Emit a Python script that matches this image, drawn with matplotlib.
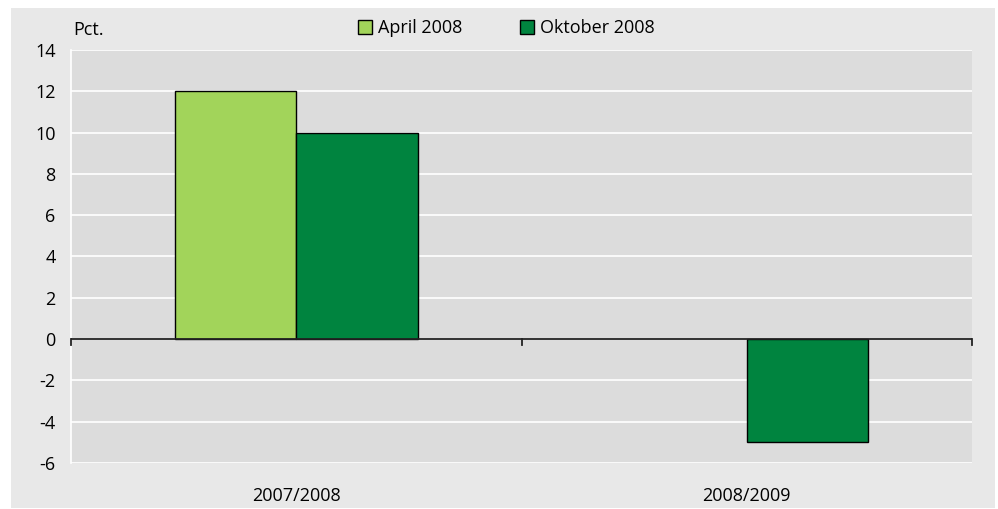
import matplotlib.pyplot as plt
from matplotlib.patches import Rectangle
import numpy as np

# data
categories = ['2007/2008', '2008/2009']
april_2008 = [12, np.nan]
oktober_2008 = [10, -5]
series_names = ['April 2008', 'Oktober 2008']
y_ticks = [-6, -4, -2, 0, 2, 4, 6, 8, 10, 12, 14]

plt.rcParams['font.family'] = ['Open Sans', 'DejaVu Sans']

fig = plt.figure(figsize=(9.98, 5.09), dpi=100)
fig.patch.set_facecolor('white')
fig.patches.append(Rectangle((11/998, 1/509), 984/998, 500/509, transform=fig.transFigure,
                             facecolor='#e8e8e8', edgecolor='none', zorder=-5))

ax = fig.add_axes([71/998, 46/509, 901/998, 413/509])
ax.set_zorder(2)
ax.set_facecolor('#dcdcdc')

x = np.arange(len(categories))
w = 0.27
ax.bar(x - w/2, april_2008, w, color='#a2d45a', edgecolor='black', linewidth=1,
       label=series_names[0], zorder=3)
ax.bar(x + w/2, oktober_2008, w, color='#00843f', edgecolor='black', linewidth=1,
       label=series_names[1], zorder=3)

ax.set_xlim(-0.5, len(categories) - 0.5)
ax.set_ylim(-6, 14)
ax.set_yticks(y_ticks)
ax.set_yticklabels([str(v) for v in y_ticks], fontsize=13)
ax.yaxis.grid(True, color='white', linewidth=1.2, zorder=1)
ax.set_axisbelow(True)
ax.tick_params(axis='y', length=0, pad=11)

ax.set_xticks(x)
ax.set_xticklabels(categories, fontsize=13)
ax.tick_params(axis='x', length=0, pad=17)

for s in ['top', 'right', 'bottom']:
    ax.spines[s].set_visible(False)
ax.spines['left'].set_color('white')
ax.spines['left'].set_linewidth(1.2)

# zero line with category boundary ticks
ax.axhline(0, color='#222222', linewidth=1.3, zorder=4)
for b in np.arange(len(categories) + 1) - 0.5:
    ax.plot([b, b], [0, -0.3], color='#222222', linewidth=1.3, zorder=4, clip_on=False)

fig.text(73/998, 1 - 30/509, 'Pct.', fontsize=13, ha='left', va='center')

ax.legend(loc='center', bbox_to_anchor=(506/998, 1 - 28/509), bbox_transform=fig.transFigure,
          ncol=2, frameon=False, fontsize=13, handlelength=0.8, handleheight=0.8,
          handletextpad=0.3, columnspacing=3.2)

fig.savefig('out.png', dpi=100)
